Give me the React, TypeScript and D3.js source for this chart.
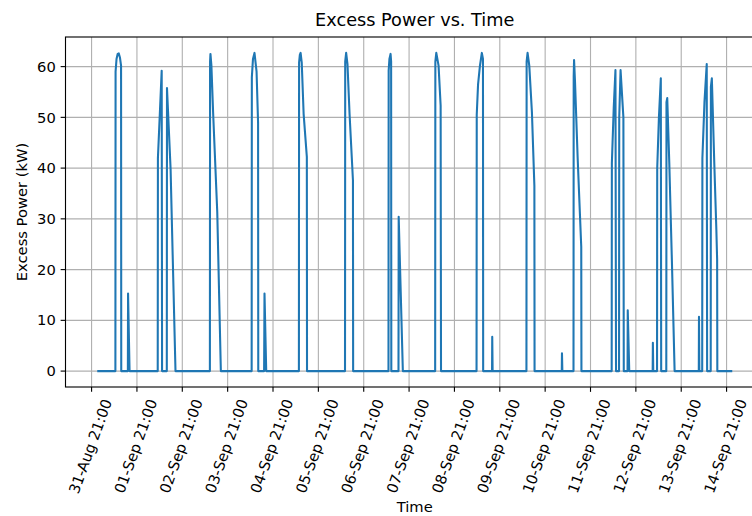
import { useEffect, useRef } from "react";
import * as d3 from "d3";

// excess power readings, [hour of day, kW], one list per day
const sep01 = [[0, 0], [9.6, 0], [9.7, 59], [10.2, 61.5], [10.8, 62.5], [11.4, 62.6], [12.0, 61.8], [12.6, 60.2], [12.7, 0], [16.2, 0], [16.3, 15.3], [17.1, 0]];
const sep02 = [[8.0, 0], [8.1, 42], [10.1, 59.2], [10.3, 0], [12.8, 0], [12.9, 55.8], [14.8, 39.9], [17.4, 0]];
const sep03 = [[11.6, 0], [11.7, 61], [11.9, 62.5], [12.4, 60.2], [13.3, 51], [15.5, 31.3], [17.4, 0]];
const sep04 = [[9.7, 0], [9.8, 57.9], [10.4, 61.5], [11.2, 62.7], [12.3, 59], [13.1, 49], [13.2, 0], [16.3, 0], [16.5, 15.3], [17.4, 0]];
const sep05 = [[10.7, 0], [10.8, 60.8], [11.2, 62.3], [11.6, 62.7], [12.2, 60.8], [13.2, 50.7], [14.9, 42.2], [15.0, 0]];
const sep06 = [[11.1, 0], [11.2, 61], [11.7, 62.7], [12.4, 60.5], [13.5, 50.7], [15.3, 37.6], [15.4, 0]];
const sep07 = [[10.1, 0], [10.2, 59.2], [10.6, 61.5], [11.2, 62.5], [11.5, 61], [11.6, 0], [15.4, 0], [15.5, 30.4], [17.7, 0]];
const sep08 = [[10.8, 0], [10.9, 61], [11.4, 62.7], [12.6, 60.2], [13.7, 52.3], [13.9, 0]];
const sep09 = [[8.7, 0], [8.8, 50.5], [9.5, 56.5], [10.5, 60.2], [11.5, 62.7], [12.1, 61.5], [12.2, 0], [16.9, 0], [17.0, 6.75], [17.2, 0]];
const sep10 = [[11.1, 0], [11.2, 61], [11.7, 62.7], [12.6, 60.2], [14.0, 51], [15.3, 36.5], [15.4, 0]];
const sep11 = [[5.8, 0], [5.9, 3.5], [6.1, 0], [12.0, 0], [12.1, 58], [12.3, 61.3], [12.8, 57], [14.2, 42], [15.5, 30], [16.1, 24.5], [16.2, 0]];
const sep12 = [[8.2, 0], [8.3, 41], [9.3, 52], [10.2, 59.3], [10.5, 0], [12.1, 0], [12.2, 50], [12.9, 59.3], [14.4, 50], [14.6, 0], [16.6, 0], [16.7, 12], [17.5, 0]];
const sep13 = [[5.9, 0], [6.0, 5.6], [6.2, 0], [8.2, 0], [8.3, 40], [9.2, 50], [10.2, 57.7], [10.4, 0], [13.1, 0], [13.2, 53], [13.6, 53.8], [14.7, 40.8], [16.1, 21.2], [17.5, 0]];
const sep14 = [[6.3, 0], [6.4, 10.7], [6.6, 0], [8.1, 0], [8.2, 42], [9.3, 53], [10.5, 60.5], [10.7, 0], [12.6, 0], [12.7, 56], [13.2, 57.7], [14.5, 40.9], [15.6, 27.7], [16.0, 22], [16.1, 0], [24, 0]];

const days = [sep01, sep02, sep03, sep04, sep05, sep06, sep07, sep08, sep09, sep10, sep11, sep12, sep13, sep14];
const firstDay = "2023-09-01 00:00";

const xTickTimes = [
  "2023-08-31 21:00", "2023-09-01 21:00", "2023-09-02 21:00", "2023-09-03 21:00",
  "2023-09-04 21:00", "2023-09-05 21:00", "2023-09-06 21:00", "2023-09-07 21:00",
  "2023-09-08 21:00", "2023-09-09 21:00", "2023-09-10 21:00", "2023-09-11 21:00",
  "2023-09-12 21:00", "2023-09-13 21:00", "2023-09-14 21:00",
];
const yTicks = [0, 10, 20, 30, 40, 50, 60];

export default function App() {
  const ref = useRef<SVGSVGElement>(null);

  useEffect(() => {
    document.body.style.margin = "0";
    buildGraph();
  }, []);

  function buildGraph({
    width = 752,
    height = 516,
    left = 65.5, // axes box, matplotlib-ish
    right = 764,
    top = 37,
    bottom = 387,
    pt = 100 / 72,
  } = {}) {
    const parse = d3.timeParse("%Y-%m-%d %H:%M");
    const fmt = d3.timeFormat("%d-%b %H:%M");
    const t0 = parse(firstDay)!.getTime();

    const data = days.flatMap((day, i) =>
      day.map(([h, v]) => ({ t: new Date(t0 + (i * 24 + h) * 3600e3), v }))
    );

    const [tMin, tMax] = d3.extent(data, d => d.t.getTime()) as [number, number];
    const tPad = (tMax - tMin) * 0.05;
    const vMax = d3.max(data, d => d.v)!;
    const vPad = vMax * 0.05;

    const x = d3.scaleTime()
      .domain([new Date(tMin - tPad), new Date(tMax + tPad)])
      .range([left, right]);

    const y = d3.scaleLinear()
      .domain([-vPad, vMax + vPad])
      .range([bottom, top]);

    const svg = d3.select(ref.current);
    svg.selectAll("*").remove();
    svg.attr("width", width).attr("height", height)
      .style("font-family", "'DejaVu Sans', sans-serif");

    svg.append("rect").attr("width", width).attr("height", height).attr("fill", "white");

    svg.append("clipPath").attr("id", "plot-clip")
      .append("rect").attr("x", left).attr("y", top)
      .attr("width", right - left).attr("height", bottom - top);

    const tickDates = xTickTimes.map(s => parse(s)!);

    // grid
    const grid = svg.append("g").attr("stroke", "#b0b0b0").attr("stroke-width", 0.8 * pt);
    grid.selectAll("line.gx")
      .data(tickDates)
      .join("line")
        .attr("class", "gx")
        .attr("x1", d => x(d)).attr("x2", d => x(d))
        .attr("y1", top).attr("y2", bottom);
    grid.selectAll("line.gy")
      .data(yTicks)
      .join("line")
        .attr("class", "gy")
        .attr("x1", left).attr("x2", right)
        .attr("y1", d => y(d)).attr("y2", d => y(d));

    // the series
    const line = d3.line<{ t: Date; v: number }>()
      .x(d => x(d.t))
      .y(d => y(d.v));

    svg.append("path")
      .datum(data)
      .attr("clip-path", "url(#plot-clip)")
      .attr("fill", "none")
      .attr("stroke", "#1f77b4")
      .attr("stroke-width", 1.5 * pt)
      .attr("stroke-linejoin", "round")
      .attr("d", line);

    // spines
    svg.append("rect")
      .attr("x", left).attr("y", top)
      .attr("width", right - left).attr("height", bottom - top)
      .attr("fill", "none").attr("stroke", "black").attr("stroke-width", 0.8 * pt);

    const tickLen = 3.5 * pt;
    const pad = 3.5 * pt;
    const fs = 14.7;

    // y axis
    const yAxis = svg.append("g");
    yAxis.selectAll("line")
      .data(yTicks)
      .join("line")
        .attr("x1", left - tickLen).attr("x2", left)
        .attr("y1", d => y(d)).attr("y2", d => y(d))
        .attr("stroke", "black").attr("stroke-width", 0.8 * pt);
    yAxis.selectAll("text")
      .data(yTicks)
      .join("text")
        .attr("x", left - tickLen - pad)
        .attr("y", d => y(d))
        .attr("dy", "0.35em")
        .attr("text-anchor", "end")
        .attr("font-size", fs)
        .attr("fill", "black")
        .text(d => d);

    // x axis
    const xAxis = svg.append("g");
    xAxis.selectAll("line")
      .data(tickDates)
      .join("line")
        .attr("x1", d => x(d)).attr("x2", d => x(d))
        .attr("y1", bottom).attr("y2", bottom + tickLen)
        .attr("stroke", "black").attr("stroke-width", 0.8 * pt);

    const rot = (70 * Math.PI) / 180;
    const labelTop = bottom + tickLen + pad;
    xAxis.selectAll("text")
      .data(tickDates)
      .join("text")
        .attr("text-anchor", "middle")
        .attr("dominant-baseline", "central")
        .attr("font-size", fs)
        .attr("fill", "black")
        .text(d => fmt(d))
        .each(function (d) {
          const el = this as SVGTextElement;
          const L = el.getComputedTextLength();
          const H = L * Math.sin(rot) + fs * 1.16 * Math.cos(rot);
          d3.select(el).attr("transform", `translate(${x(d) - 1.5},${labelTop + H / 2}) rotate(-70)`);
        });

    // labels
    svg.append("text")
      .attr("x", (left + right) / 2)
      .attr("y", 26)
      .attr("text-anchor", "middle")
      .attr("font-size", 17.7)
      .text("Excess Power vs. Time");

    svg.append("text")
      .attr("x", (left + right) / 2)
      .attr("y", 511.5)
      .attr("text-anchor", "middle")
      .attr("font-size", fs)
      .text("Time");

    svg.append("text")
      .attr("transform", `translate(21,${(top + bottom) / 2}) rotate(-90)`)
      .attr("text-anchor", "middle")
      .attr("dominant-baseline", "central")
      .attr("font-size", fs)
      .text("Excess Power (kW)");
  }

  return <svg ref={ref} style={{ display: "block" }} />;
}
